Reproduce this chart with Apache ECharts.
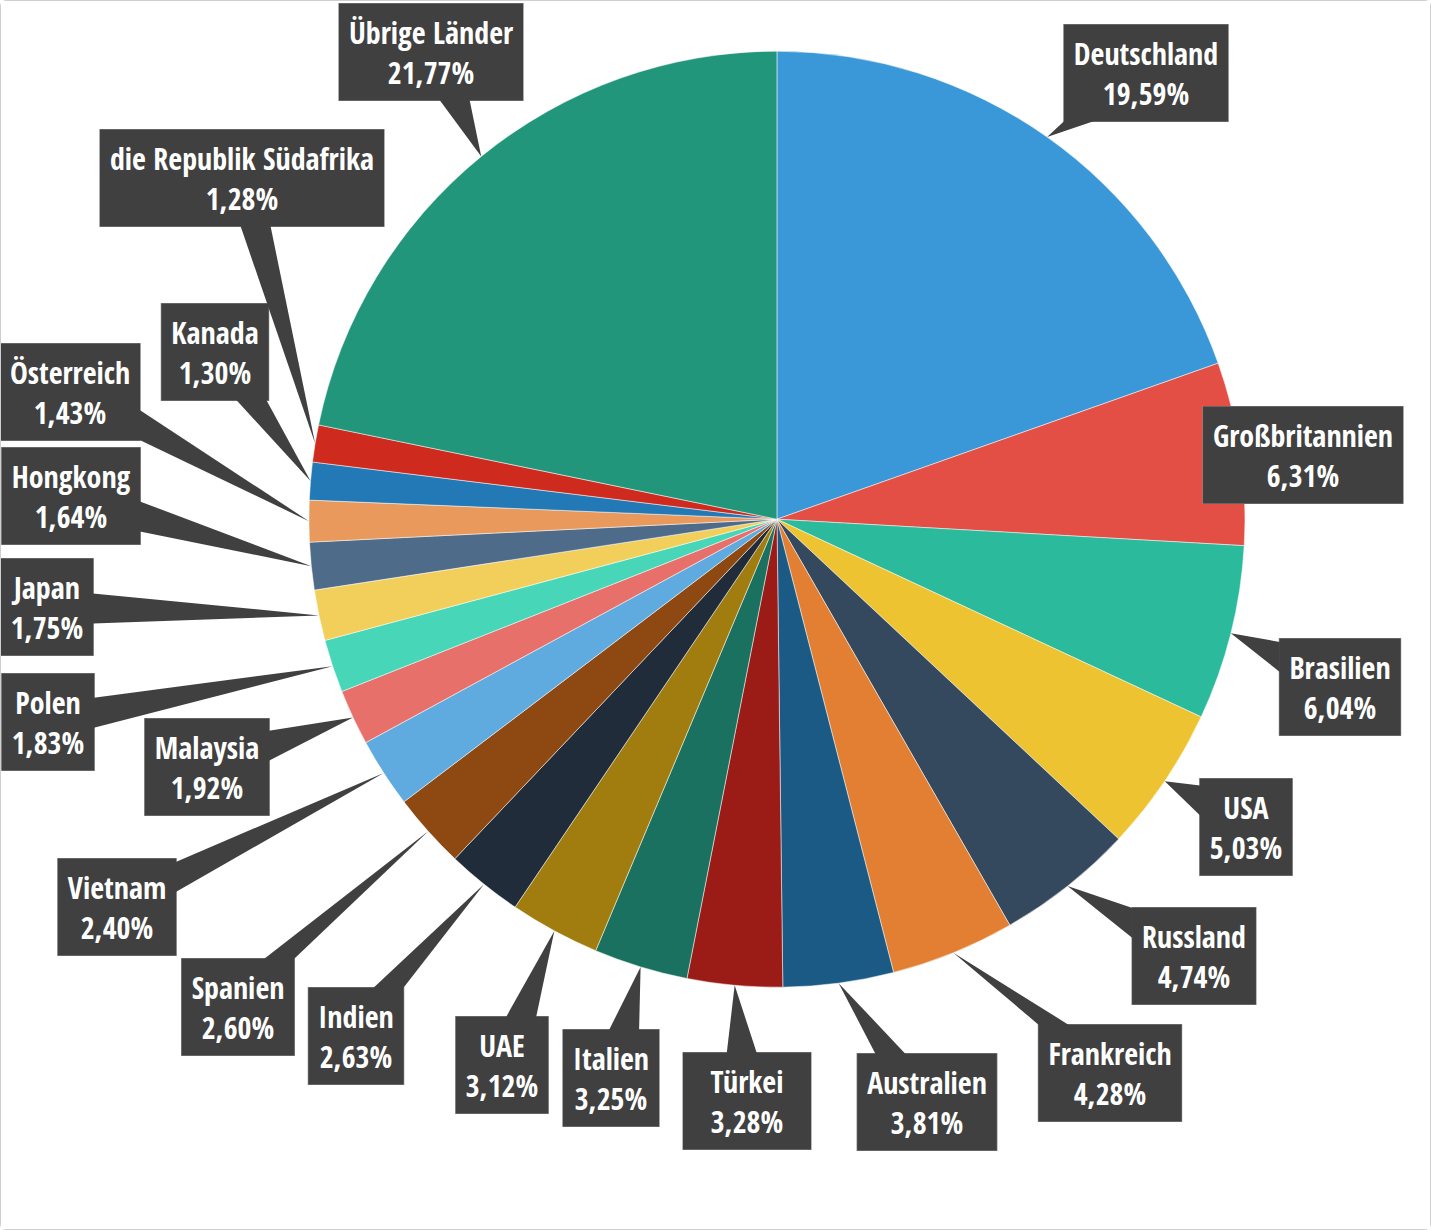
<!DOCTYPE html>
<html>
<head>
    <meta charset="utf-8">
    <script src="https://cdn.jsdelivr.net/npm/echarts@6/dist/echarts.min.js"></script>
    <style type="text/css">
        html, body {
            margin: 0;
            padding: 0;
            background: #fff;
        }
        #main {
            width: 1431px;
            height: 1230px;
            box-sizing: border-box;
            border: 1px solid #cfcfcf;
            border-radius: 6px;
        }
    </style>
</head>
<body>
    <div id="main"></div>
</body>
</html>

<script type="text/javascript">
    // Anteile in Prozent, im Uhrzeigersinn ab 12 Uhr
    let countries = ['Deutschland', 'Großbritannien', 'Brasilien', 'USA', 'Russland', 'Frankreich',
        'Australien', 'Türkei', 'Italien', 'UAE', 'Indien', 'Spanien', 'Vietnam', 'Malaysia',
        'Polen', 'Japan', 'Hongkong', 'Österreich', 'Kanada', 'die Republik Südafrika', 'Übrige Länder']
    let shares = [19.59, 6.31, 6.04, 5.03, 4.74, 4.28, 3.81, 3.28, 3.25, 3.12, 2.63, 2.60, 2.40, 1.92,
        1.83, 1.75, 1.64, 1.43, 1.30, 1.28, 21.77]
    let colors = ['#3a98d8', '#e34f44', '#2bba9b', '#eec332', '#34495e', '#e27f32', '#1c5a86', '#9b1c16',
        '#1a715f', '#a07d0e', '#202c3a', '#8e4912', '#5fabdf', '#e8706a', '#48d6b8', '#f2cf5a',
        '#4e6b8a', '#e8995b', '#2279b5', '#ce2a1e', '#22967b']

    // where the callout boxes sit (box centre, px)
    let labelAnchor = [
        [1145, 72], [1302, 454], [1339, 686], [1245, 826], [1193, 955], [1109, 1072],
        [926, 1101], [746, 1100], [610, 1077], [501, 1064], [355, 1035], [237, 1006],
        [116, 906], [206, 766], [47, 721], [46, 606], [70, 495], [69, 391],
        [214, 351], [241, 177], [430, 51]
    ]

    let boxSize = {}

    function fmt(v) {
        return v.toFixed(2).replace('.', ',') + '%'
    }

    let chart = echarts.init(document.getElementById('main'), null, { renderer: 'svg' })

    let option = {
        animation: false,
        backgroundColor: '#fff',
        series: [
            {
                type: 'pie',
                center: ['54.3%', '42.2%'],
                radius: 468,
                startAngle: 90,
                clockwise: true,
                avoidLabelOverlap: false,
                itemStyle: {
                    borderColor: '#fff',
                    borderWidth: 0.5
                },
                label: {
                    show: true,
                    position: 'outside',
                    formatter: function (p) {
                        return p.name + '\n' + fmt(shares[p.dataIndex])
                    },
                    color: '#fff',
                    fontFamily: "'Open Sans Condensed', 'Roboto Condensed', sans-serif",
                    fontWeight: 'bold',
                    fontSize: 30,
                    lineHeight: 40,
                    align: 'center',
                    backgroundColor: '#404040',
                    borderColor: '#8a8a8a',
                    borderWidth: 0.6,
                    padding: [9, 10, 8, 10]
                },
                labelLine: { show: false },
                labelLayout: function (params) {
                    let a = labelAnchor[params.dataIndex]
                    boxSize[params.dataIndex] = [params.labelRect.width, params.labelRect.height]
                    return { x: a[0], y: a[1], align: 'center', verticalAlign: 'middle' }
                },
                emphasis: { disabled: true },
                data: countries.map((c, i) => {
                    let item = {
                        name: c,
                        value: shares[i],
                        itemStyle: { color: colors[i] }
                    }
                    // the Türkei box is drawn wider than its text
                    if (c === 'Türkei') item.label = { width: 108 }
                    return item
                })
            }
        ]
    }

    chart.setOption(option)

    // speech-bubble tails: from the box edge to the rim of each slice
    function drawTails() {
        let data = chart.getModel().getSeriesByIndex(0).getData()
        let polys = []
        let w = 15
        for (let i = 0; i < countries.length; i++) {
            let lay = data.getItemLayout(i)
            let size = boxSize[i]
            if (!lay || !size) continue
            let mid = (lay.startAngle + lay.endAngle) / 2
            let tx = lay.cx + lay.r * Math.cos(mid)
            let ty = lay.cy + lay.r * Math.sin(mid)
            let cx = labelAnchor[i][0], cy = labelAnchor[i][1]
            let hw = size[0] / 2, hh = size[1] / 2
            let dx = tx - cx, dy = ty - cy
            if (Math.abs(dx) < hw + 4 && Math.abs(dy) < hh + 4) continue
            let tX = dx !== 0 ? hw / Math.abs(dx) : Infinity
            let tY = dy !== 0 ? hh / Math.abs(dy) : Infinity
            let b1, b2
            if (tX < tY) {
                let xe = cx + Math.sign(dx) * (hw - 1)
                let py = cy + dy * tX
                py = Math.max(cy - hh + w + 1, Math.min(cy + hh - w - 1, py))
                b1 = [xe, py - w]
                b2 = [xe, py + w]
            } else {
                let ye = cy + Math.sign(dy) * (hh - 1)
                let px = cx + dx * tY
                px = Math.max(cx - hw + w + 1, Math.min(cx + hw - w - 1, px))
                b1 = [px - w, ye]
                b2 = [px + w, ye]
            }
            polys.push({
                type: 'polygon',
                silent: true,
                z: 10,
                shape: { points: [b1, [tx, ty], b2] },
                style: { fill: '#404040' }
            })
        }
        chart.setOption({ graphic: { elements: polys } })
    }

    drawTails()
</script>
